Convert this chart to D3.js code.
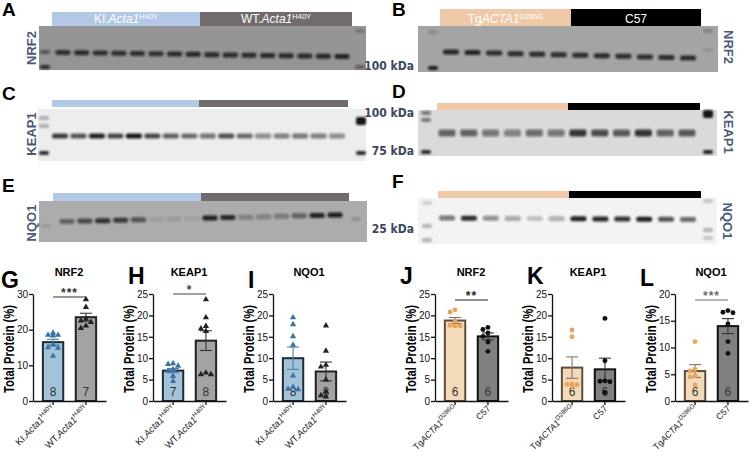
<!DOCTYPE html>
<meta charset="utf-8">
<style>
  body { margin: 0; background: #fff; }
  svg text { font-family: "Liberation Sans", Arial, sans-serif; }
  .narrow { font-family: "Liberation Sans Narrow", "DejaVu Sans Condensed", "Liberation Sans", sans-serif !important; }
</style>
<body>
<script src="https://d3js.org/d3.v7.min.js"></script>
<script>

// ---------- blot lane intensities (0 = no band, 1 = saturated) ----------
var blotNrf2H40Y  = [0.78, 0.8, 0.8, 0.78, 0.78, 0.76, 0.8, 0.82, 0.85, 0.85, 0.85, 0.86, 0.86, 0.86, 0.86, 0.9];
var blotKeap1H40Y = [0.8, 0.7, 0.95, 0.75, 1.0, 0.75, 0.65, 0.6, 0.55, 0.7, 0.6, 0.45, 0.5, 0.55, 0.5, 0.45];
var blotNqo1H40Y  = [0.5, 0.65, 0.85, 0.75, 0.6, 0.08, 0.1, 0.06, 0.95, 0.9, 0.3, 0.3, 0.35, 0.5, 0.92, 0.95];
var blotNrf2D286G  = [0.9, 0.9, 0.85, 0.85, 0.85, 0.85, 0.85, 0.82, 0.85, 0.85, 0.85, 0.82];
var blotKeap1D286G = [0.6, 0.6, 0.5, 0.45, 0.55, 0.5, 0.85, 0.7, 0.65, 0.85, 0.6, 0.65];
var blotNqo1D286G  = [0.55, 0.9, 0.45, 0.35, 0.2, 0.3, 0.95, 0.92, 0.88, 0.95, 0.7, 0.6];

// ---------- group labels: [plain, italic, superscript] ----------
var groupsH40Y  = [["KI.", "Acta1", "H40Y"], ["WT.", "Acta1", "H40Y"]];
var groupsD286G = [["Tg", "ACTA1", "D286G"], ["C57", "", ""]];

// ---------- quantification (% total protein) ----------
var nrf2KI   = [19.1, 18.5, 18.3, 18.5, 15.7, 14.9, 12.6, 15.0];
var nrf2WT   = [28.5, 26.3, 22.1, 21.1, 20.4, 22.5, 23.0];
var keap1KI  = [8.6, 8.8, 8.2, 7.0, 5.8, 4.6, 7.4];
var keap1WT  = [23.7, 19.5, 17.5, 16.9, 16.3, 6.2, 6.6, 6.2];
var nqo1KI   = [19.5, 17.9, 15.1, 13.1, 5.9, 3.3, 2.7, 2.8];
var nqo1WT   = [17.6, 11.7, 8.4, 8.0, 5.0, 2.2, 1.0, 1.3];
var nrf2Tg   = [21.3, 20.8, 18.6, 17.7, 17.5, 17.5];
var nrf2C57  = [17.2, 16.7, 15.9, 15.1, 13.8, 11.6];
var keap1Tg  = [16.6, 15.0, 4.0, 3.5, 3.8, 3.9];
var keap1C57 = [19.3, 9.4, 4.7, 4.6, 4.5, 2.0];
var nqo1Tg   = [11.1, 5.9, 5.6, 4.7, 4.5, 3.0];
var nqo1C57  = [16.9, 16.6, 16.5, 14.4, 11.1, 8.9];

var meanNrf2H40Y  = [16.5, 23.5], semNrf2H40Y  = [0.8, 1.1];
var meanKeap1H40Y = [7.1, 14.1],  semKeap1H40Y = [0.5, 2.3];
var meanNqo1H40Y  = [10.0, 6.9],  semNqo1H40Y  = [2.6, 2.2];
var meanNrf2D286G  = [18.8, 15.1], semNrf2D286G  = [0.7, 0.8];
var meanKeap1D286G = [7.8, 7.4],   semKeap1D286G = [2.5, 2.6];
var meanNqo1D286G  = [5.6, 14.0],  semNqo1D286G  = [1.2, 1.4];

var width = 749, height = 452;
var labelColor = "#4a5a78";

var svg = d3.select("body").append("svg")
  .attr("width", width)
  .attr("height", height);

svg.append("rect").attr("width", width).attr("height", height).attr("fill", "#fff");

var defs = svg.append("defs");
defs.append("filter").attr("id", "blur").attr("x", "-50%").attr("y", "-100%").attr("width", "200%").attr("height", "300%")
  .append("feGaussianBlur").attr("stdDeviation", 0.9);

function richText(t, parts, supSize) {
  t.append("tspan").text(parts[0]);
  if (parts[1]) t.append("tspan").style("font-style", "italic").text(parts[1]);
  if (parts[2]) t.append("tspan").attr("font-size", supSize).attr("dy", -4).text(parts[2]);
}

// ---------- western blot panels ----------
function blot(c) {
  var g = svg.append("g");
  g.append("text").attr("x", c.lx).attr("y", c.ly).attr("font-size", 19).attr("font-weight", "bold").text(c.letter);

  // group header bar
  var hx = d3.scaleLinear().domain([0, 1, 2]).range([c.hx0, c.hSplit, c.hx1]);
  g.selectAll("rect.hdr").data(c.groups).enter().append("rect")
    .attr("x", function (d, i) { return hx(i); })
    .attr("y", c.hy)
    .attr("width", function (d, i) { return hx(i + 1) - hx(i); })
    .attr("height", c.hh)
    .attr("fill", function (d, i) { return c.hdrColors[i]; });
  if (c.hh > 10) {
    c.groups.forEach(function (d, i) {
      var t = g.append("text").attr("x", (hx(i) + hx(i + 1)) / 2).attr("y", c.hy + c.hh - 3)
        .attr("text-anchor", "middle").attr("font-size", 12).attr("fill", "#fff");
      richText(t, d, 7.5);
    });
  }

  // membrane
  g.append("rect").attr("x", c.x).attr("y", c.y).attr("width", c.w).attr("height", c.h).attr("fill", c.bg);

  var lane = d3.scalePoint().domain(d3.range(c.bands.length)).range([c.first, c.last]);
  var bandY = d3.scaleLinear().domain([0, c.bands.length - 1]).range(c.bandY);
  var shade = g.append("g").attr("filter", "url(#blur)");
  shade.selectAll("rect.band").data(c.bands).enter().append("rect")
    .attr("x", function (d, i) { return lane(i) - c.bw / 2; })
    .attr("y", function (d, i) { return bandY(i) - c.bh / 2; })
    .attr("width", c.bw)
    .attr("height", c.bh)
    .attr("rx", 2)
    .attr("fill", "#141414")
    .attr("opacity", function (d) { return d; });
  shade.selectAll("rect.ladder").data(c.ladder).enter().append("rect")
    .attr("x", function (d) { return d[0] - 5; })
    .attr("y", function (d) { return d[1] - (d[3] || 4) / 2; })
    .attr("width", 10)
    .attr("height", function (d) { return d[3] || 4; })
    .attr("rx", 2)
    .attr("fill", "#141414")
    .attr("opacity", function (d) { return d[2]; });

  // protein label
  g.append("text")
    .attr("transform", "translate(" + c.px + "," + c.py + ") rotate(" + c.rot + ")")
    .attr("text-anchor", "middle").attr("dy", "0.35em")
    .attr("font-size", 13).attr("font-weight", "bold").attr("fill", labelColor)
    .text(c.protein);

  (c.kda || []).forEach(function (k) {
    g.append("text").attr("class", "narrow").attr("x", 414).attr("y", k[1]).attr("text-anchor", "end")
      .attr("font-size", 12).attr("font-weight", "bold").attr("fill", "#3d475e").text(k[0]);
  });
}

var blueHdr = ["#b3c8e6", "#716b6b"], peachHdr = ["#f0c9a9", "#000"];

blot({ letter: "A", lx: 2, ly: 16, groups: groupsH40Y, hdrColors: blueHdr, hx0: 52, hSplit: 200, hx1: 352, hy: 12, hh: 14,
  x: 39, y: 26, w: 327, h: 44, bg: "#959595", first: 63, last: 342, bandY: [52.5, 56.5], bw: 15, bh: 5, bands: blotNrf2H40Y,
  ladder: [[45, 52, 0.5], [45, 67, 0.8], [360, 31, 0.2], [360, 67, 0.45]],
  protein: "NRF2", px: 31, py: 48, rot: -90 });

blot({ letter: "B", lx: 392, ly: 16, groups: groupsD286G, hdrColors: peachHdr, hx0: 440, hSplit: 571, hx1: 701, hy: 9, hh: 17,
  x: 418, y: 26, w: 300, h: 46, bg: "#a4a4a4", first: 451, last: 688, bandY: [52, 58], bw: 16, bh: 5, bands: blotNrf2D286G,
  ladder: [[433, 68, 0.95], [433, 32, 0.15], [708, 31, 0.2], [708, 50, 0.1]],
  protein: "NRF2", px: 729, py: 47, rot: 90, kda: [["100 kDa", 70]] });

blot({ letter: "C", lx: 2, ly: 100, groups: groupsH40Y, hdrColors: blueHdr, hx0: 52, hSplit: 199, hx1: 348, hy: 100, hh: 7,
  x: 38, y: 109, w: 328, h: 52, bg: "#ededed", first: 60, last: 337, bandY: [136, 136], bw: 16, bh: 5, bands: blotKeap1H40Y,
  ladder: [[44, 118, 0.3], [44, 126, 0.3], [44, 153, 0.9], [361, 121, 1, 8], [361, 153, 0.9]],
  protein: "KEAP1", px: 31, py: 134, rot: -90 });

blot({ letter: "D", lx: 392, ly: 98, groups: groupsD286G, hdrColors: peachHdr, hx0: 437, hSplit: 568, hx1: 700, hy: 103, hh: 7,
  x: 418, y: 110, w: 299, h: 46, bg: "#dadada", first: 447, last: 687, bandY: [133, 133], bw: 17, bh: 7, bands: blotKeap1D286G,
  ladder: [[426, 113, 0.5], [426, 120, 0.5], [426, 152, 0.9], [708, 114, 1, 8], [708, 152, 0.95]],
  protein: "KEAP1", px: 729, py: 132, rot: 90, kda: [["100 kDa", 117], ["75 kDa", 155]] });

blot({ letter: "E", lx: 2, ly: 192, groups: groupsH40Y, hdrColors: blueHdr, hx0: 53, hSplit: 201, hx1: 349, hy: 193, hh: 8,
  x: 39, y: 201, w: 328, h: 41, bg: "#acacac", first: 67, last: 335, bandY: [221.5, 215], bw: 15, bh: 5, bands: blotNqo1H40Y,
  ladder: [[356, 219, 0.15], [46, 226, 0.1]],
  protein: "NQO1", px: 31, py: 223, rot: -90 });

blot({ letter: "F", lx: 392, ly: 188, groups: groupsD286G, hdrColors: peachHdr, hx0: 438, hSplit: 569, hx1: 701, hy: 191, hh: 8,
  x: 418, y: 198, w: 299, h: 46, bg: "#f3f3f3", first: 447, last: 688, bandY: [218, 219.5], bw: 16, bh: 5, bands: blotNqo1D286G,
  ladder: [[427, 203, 0.15], [427, 226, 0.3], [427, 240, 0.3], [708, 201, 0.2], [708, 230, 0.3], [708, 238, 0.2]],
  protein: "NQO1", px: 728, py: 221, rot: 90, kda: [["25 kDa", 233]] });

// ---------- bar charts ----------
var styleH40Y = { fill: ["#a3c4d8", "#a3a3a3"], stroke: ["#1d2b38", "#222"], err: ["#4d7ca6", "#333"],
  pt: ["#3a72a8", "#222"], sym: d3.symbolTriangle, size: 17, xFont: 9.5 };
var styleD286G = { fill: ["#f3dab9", "#808080"], stroke: ["#5e4e3e", "#111"], err: ["#8c7358", "#333"],
  pt: ["#eba45a", "#111"], sym: d3.symbolCircle, size: 19, xFont: 8.8 };

function barChart(c) {
  var y0 = 401, y1 = 294;
  var x = d3.scaleBand().domain([0, 1]).range([c.x0, c.x0 + 73]).paddingInner(0.38).paddingOuter(0.3);
  var y = d3.scaleLinear().domain([0, c.yMax]).range([y0, y1]);
  var s = c.style;
  var g = svg.append("g");

  g.append("text").attr("x", c.lx).attr("y", c.ly).attr("font-size", 23).attr("font-weight", "bold").text(c.letter);
  g.append("text").attr("x", c.x0 + 36).attr("y", 276).attr("text-anchor", "middle")
    .attr("font-size", 11).attr("font-weight", "bold").text(c.title);
  g.append("text")
    .attr("transform", "translate(" + (c.x0 - 24) + ",349) rotate(-90)")
    .attr("text-anchor", "middle").attr("dy", "0.35em")
    .attr("font-size", 15).attr("font-weight", "bold")
    .attr("textLength", 88).attr("lengthAdjust", "spacingAndGlyphs")
    .text("Total Protein (%)");

  // bars
  g.selectAll("rect.bar").data(c.means).enter().append("rect")
    .attr("x", function (d, i) { return x(i); })
    .attr("y", function (d) { return y(d); })
    .attr("width", x.bandwidth())
    .attr("height", function (d) { return y0 - y(d); })
    .attr("fill", function (d, i) { return s.fill[i]; })
    .attr("stroke", function (d, i) { return s.stroke[i]; })
    .attr("stroke-width", 2);

  // n inside bars
  g.selectAll("text.n").data(c.pts).enter().append("text")
    .attr("x", function (d, i) { return x(i) + x.bandwidth() / 2; })
    .attr("y", 396).attr("text-anchor", "middle").attr("font-size", 12).attr("fill", "#333")
    .text(function (d) { return d.length; });

  // error bars (mean +/- SEM)
  c.means.forEach(function (m, i) {
    var cx = x(i) + x.bandwidth() / 2, e = c.sems[i];
    var eg = g.append("g").attr("stroke", s.err[i]).attr("stroke-width", 1.1);
    eg.append("line").attr("x1", cx).attr("x2", cx).attr("y1", y(m - e)).attr("y2", y(m + e));
    [m - e, m + e].forEach(function (v) {
      eg.append("line").attr("x1", cx - 6).attr("x2", cx + 6).attr("y1", y(v)).attr("y2", y(v));
    });
  });

  // individual animals (simple collision-free spread)
  c.pts.forEach(function (vals, i) {
    var cx = x(i) + x.bandwidth() / 2, placed = [];
    vals.slice().sort(d3.descending).forEach(function (v) {
      var py = y(v), offs = [0, -5, 5, -9, 9, -2.5, 2.5], dx = 0;
      for (var k = 0; k < offs.length; k++) {
        var ok = placed.every(function (p) { return Math.hypot(p[0] - offs[k], p[1] - py) > 4.6; });
        if (ok) { dx = offs[k]; break; }
      }
      placed.push([dx, py]);
      g.append("path").attr("d", d3.symbol(s.sym, s.size)())
        .attr("transform", "translate(" + (cx + dx) + "," + py + ")")
        .attr("fill", s.pt[i]);
    });
  });

  // axes
  var ya = g.append("g").attr("transform", "translate(" + c.x0 + ",0)")
    .call(d3.axisLeft(y).tickValues(d3.range(0, c.yMax + 1, c.step)).tickSize(4).tickSizeOuter(0).tickPadding(1));
  var xa = g.append("g").attr("transform", "translate(0," + y0 + ")")
    .call(d3.axisBottom(x).tickSize(4).tickSizeOuter(0).tickFormat(function () { return ""; }));
  [ya, xa].forEach(function (a) {
    a.selectAll("path, line").attr("stroke", "#111").attr("stroke-width", 1.3);
    a.selectAll("text").attr("font-size", 10).attr("font-family", "Liberation Sans, Arial, sans-serif").attr("fill", "#111");
  });

  // rotated group labels
  c.groups.forEach(function (d, i) {
    var cx = x(i) + x.bandwidth() / 2 + 3;
    var t = g.append("text").attr("transform", "translate(" + cx + ",409) rotate(-45)")
      .attr("text-anchor", "end").attr("font-size", s.xFont).attr("fill", "#222");
    richText(t, d, 6.5);
  });

  // significance
  if (c.sig) {
    var a = x(0) + x.bandwidth() / 2, b = x(1) + x.bandwidth() / 2;
    g.append("line").attr("x1", a).attr("x2", b).attr("y1", c.sigY).attr("y2", c.sigY)
      .attr("stroke", c.sigColor || "#333").attr("stroke-width", 1.2);
    g.append("text").attr("x", (a + b) / 2).attr("y", c.sigY).attr("text-anchor", "middle")
      .attr("font-size", 12).attr("font-weight", "bold").attr("letter-spacing", 1).attr("fill", c.sigColor || "#333")
      .text(c.sig);
  }
}

barChart({ letter: "G", lx: 1, ly: 288, title: "NRF2", x0: 33, yMax: 30, step: 10, style: styleH40Y, groups: groupsH40Y,
  means: meanNrf2H40Y, sems: semNrf2H40Y, pts: [nrf2KI, nrf2WT], sig: "***", sigY: 297 });
barChart({ letter: "H", lx: 128, ly: 284, title: "KEAP1", x0: 153, yMax: 25, step: 5, style: styleH40Y, groups: groupsH40Y,
  means: meanKeap1H40Y, sems: semKeap1H40Y, pts: [keap1KI, keap1WT], sig: "*", sigY: 294, sigColor: "#444" });
barChart({ letter: "I", lx: 248, ly: 288, title: "NQO1", x0: 273, yMax: 25, step: 5, style: styleH40Y, groups: groupsH40Y,
  means: meanNqo1H40Y, sems: semNqo1H40Y, pts: [nqo1KI, nqo1WT] });
barChart({ letter: "J", lx: 400, ly: 284, title: "NRF2", x0: 435, yMax: 25, step: 5, style: styleD286G, groups: groupsD286G,
  means: meanNrf2D286G, sems: semNrf2D286G, pts: [nrf2Tg, nrf2C57], sig: "**", sigY: 300, sigColor: "#222" });
barChart({ letter: "K", lx: 527, ly: 284, title: "KEAP1", x0: 552, yMax: 25, step: 5, style: styleD286G, groups: groupsD286G,
  means: meanKeap1D286G, sems: semKeap1D286G, pts: [keap1Tg, keap1C57] });
barChart({ letter: "L", lx: 640, ly: 286, title: "NQO1", x0: 675, yMax: 20, step: 5, style: styleD286G, groups: groupsD286G,
  means: meanNqo1D286G, sems: semNqo1D286G, pts: [nqo1Tg, nqo1C57], sig: "***", sigY: 300, sigColor: "#6e6e6e" });

</script>
</body>
